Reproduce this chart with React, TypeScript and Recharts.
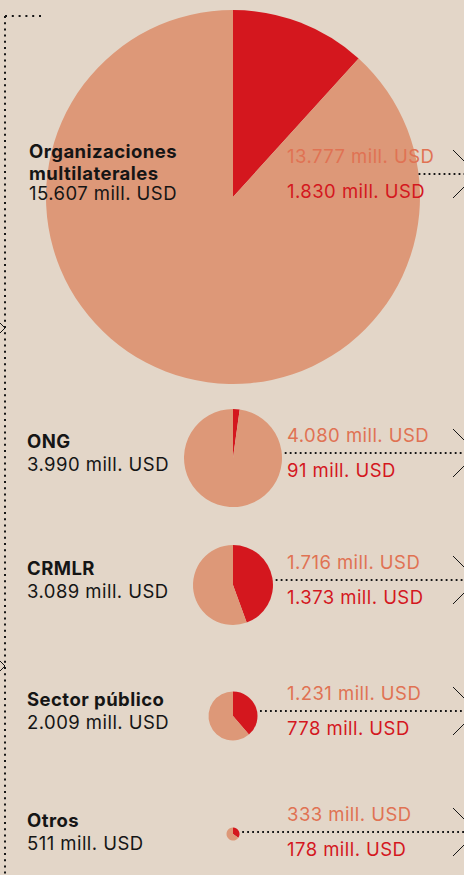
import { PieChart, Pie, Cell } from 'recharts';

const categories = ['Organizaciones multilaterales', 'ONG', 'CRMLR', 'Sector público', 'Otros'];
const totals = [15607, 3990, 3089, 2009, 511];
const restValues = [13777, 4080, 1716, 1231, 333];
const redValues = [1830, 91, 1373, 778, 178];

// layout
const W = 464;
const H = 875;
const CX = 233;
const pieCY = [197, 458, 585, 716, 834];
const radii = [187, 49, 40, 24.5, 6.5];
const rowY = [174, 453, 580, 711, 832];

const BG = '#e3d6c8';
const SALMON = '#dd9878';
const RED = '#d4171e';
const SALMON_TEXT = '#e07253';
const INK = '#151515';
const FONT = 'Inter, "Liberation Sans", sans-serif';
const FS = 18.5;
const LS = 0.45;

const fmt = (n: number) => String(n).replace(/\B(?=(\d{3})+(?!\d))/g, '.') + ' mill. USD';

export default function App() {
  return (
    <div style={{ position: 'absolute', left: 0, top: 0, width: W, height: H, background: BG, overflow: 'hidden' }}>
      <PieChart width={W} height={H} margin={{ top: 0, right: 0, bottom: 0, left: 0 }}>
        {categories.map((c, i) => (
          <Pie
            key={c}
            data={[
              { name: 'red', value: redValues[i] },
              { name: 'rest', value: restValues[i] },
            ]}
            dataKey="value"
            cx={CX}
            cy={pieCY[i]}
            innerRadius={0}
            outerRadius={radii[i]}
            startAngle={90}
            endAngle={-270}
            stroke="none"
            isAnimationActive={false}
          >
            <Cell fill={RED} />
            <Cell fill={SALMON} />
          </Pie>
        ))}
      </PieChart>
      <svg width={W} height={H} style={{ position: 'absolute', left: 0, top: 0, pointerEvents: 'none' }}>
        {/* left bracket */}
        <line x1={5} y1={16} x2={5} y2={H} stroke={INK} strokeWidth={2} strokeDasharray="2 4.2" />
        <line x1={5} y1={16} x2={41} y2={16} stroke={INK} strokeWidth={2} strokeDasharray="2 4.8" />
        {[328, 666].map((y) => (
          <polyline key={y} points={`0,${y - 5} 5,${y} 0,${y + 5}`} fill="none" stroke={INK} strokeWidth={1} />
        ))}
        {categories.map((c, i) => {
          const r = radii[i];
          const dy = rowY[i] - pieCY[i];
          const x0 = CX + Math.sqrt(Math.max(r * r - dy * dy, 0)) + (i === 0 ? 0 : 3);
          const y = rowY[i];
          const leftX = i === 0 ? 29 : 27;
          const words = c.split(' ');
          const nameLines = i === 0 ? words : [c];
          const nameY = i === 0 ? [y - 23, y - 1] : [y - 12];
          const valY = i === 0 ? y + 19 : y + 11;
          const base = 6.5;
          return (
            <g key={c} fontFamily={FONT} fontSize={FS} letterSpacing={LS}>
              <line x1={x0} y1={y} x2={W} y2={y} stroke={INK} strokeWidth={1.8} strokeDasharray="1.8 3.2" />
              <line x1={453} y1={y - 24} x2={465} y2={y - 12} stroke={INK} strokeWidth={1} />
              <line x1={453} y1={y + 24} x2={465} y2={y + 12} stroke={INK} strokeWidth={1} />
              <text x={287} y={y - 17.5 + base} fill={SALMON_TEXT}>{fmt(restValues[i])}</text>
              <text x={287} y={y + 17.5 + base} fill={RED}>{fmt(redValues[i])}</text>
              {nameLines.map((t, k) => (
                <text key={t} x={leftX} y={nameY[k] + base} fontWeight={700} fill={INK}>{t}</text>
              ))}
              <text x={leftX} y={valY + base} fill={INK}>{fmt(totals[i])}</text>
            </g>
          );
        })}
      </svg>
    </div>
  );
}
